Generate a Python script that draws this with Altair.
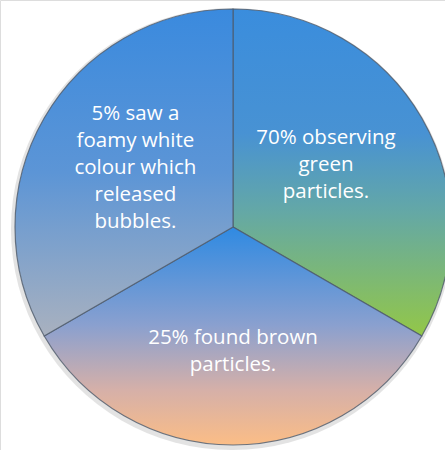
import altair as alt
import pandas as pd

# Slices listed clockwise from 12 o'clock
slices = ["green", "brown", "white"]
shares = [1, 1, 1]
labels = [
    "70% observing\ngreen\nparticles.",
    "25% found brown\nparticles.",
    "5% saw a\nfoamy white\ncolour which\nreleased\nbubbles.",
]
order = [0, 1, 2]

df = pd.DataFrame({"slice": slices, "share": shares, "label": labels, "order": order})

def vgrad(stops):
    return {
        "gradient": "linear",
        "x1": 0, "y1": 0, "x2": 0, "y2": 1,
        "stops": [{"offset": o, "color": c} for o, c in stops],
    }

fills = {
    "green": vgrad([(0, "#3a8ddd"), (0.38, "#4892d3"), (0.62, "#64a8a6"), (1, "#93c748")]),
    "brown": vgrad([(0, "#2f8ae2"), (0.45, "#8aa0cf"), (0.75, "#d6b0a8"), (1, "#fbbd86")]),
    "white": vgrad([(0, "#3a8ade"), (0.5, "#5c95d6"), (1, "#a9b1bf")]),
}

CX, CY, R = 233, 227, 218
LINE_H = 27
# label placement per slice: radius from centre and small nudges
label_pos = {"green": (112, -4, -6), "brown": (124, 0, 0), "white": (115, 2, -2)}

base = (
    alt.Chart(df)
    .transform_joinaggregate(total="sum(share)")
    .transform_window(cum="sum(share)", sort=[{"field": "order"}], frame=[None, 0])
    .transform_calculate(
        start="(datum.cum - datum.share) / datum.total",
        end="datum.cum / datum.total",
        mid="(datum.cum - datum.share / 2) / datum.total",
    )
)

theta_scale = alt.Scale(domain=[0, 1])

# soft shadow ring under the pie
shadow = base.mark_arc(fill="#c8c8c8", opacity=0.5).encode(
    theta=alt.Theta("start:Q", scale=theta_scale),
    theta2="end:Q",
    radius=alt.value(R + 3),
    x=alt.value(CX - 1),
    y=alt.value(CY + 2),
)

layers = [shadow]
for s in slices:
    layers.append(
        base.transform_filter(alt.datum.slice == s)
        .mark_arc(fill=fills[s], stroke="#4d5a6a", strokeWidth=1.2, strokeOpacity=0.8)
        .encode(
            theta=alt.Theta("start:Q", scale=theta_scale),
            theta2="end:Q",
            radius=alt.value(R),
            x=alt.value(CX),
            y=alt.value(CY),
        )
    )

for s, lab in zip(slices, labels):
    n_lines = lab.count("\n") + 1
    rad, dx, dy = label_pos[s]
    layers.append(
        base.transform_filter(alt.datum.slice == s)
        .mark_text(
            font="Open Sans",
            fontSize=20.5,
            color="white",
            align="center",
            baseline="middle",
            lineBreak="\n",
            lineHeight=LINE_H,
            dx=dx,
            dy=dy - (n_lines - 1) * LINE_H / 2,
        )
        .encode(
            theta=alt.Theta("mid:Q", scale=theta_scale),
            radius=alt.value(rad),
            text="label:N",
            x=alt.value(CX),
            y=alt.value(CY),
        )
    )

chart = (
    alt.layer(*layers)
    .properties(width=445, height=450, padding=0, autosize=alt.AutoSizeParams(type="none"))
    .configure_view(stroke=None)
    .configure(background="white")
)

chart.save("out.html", embed_options={"renderer": "svg", "actions": False})
